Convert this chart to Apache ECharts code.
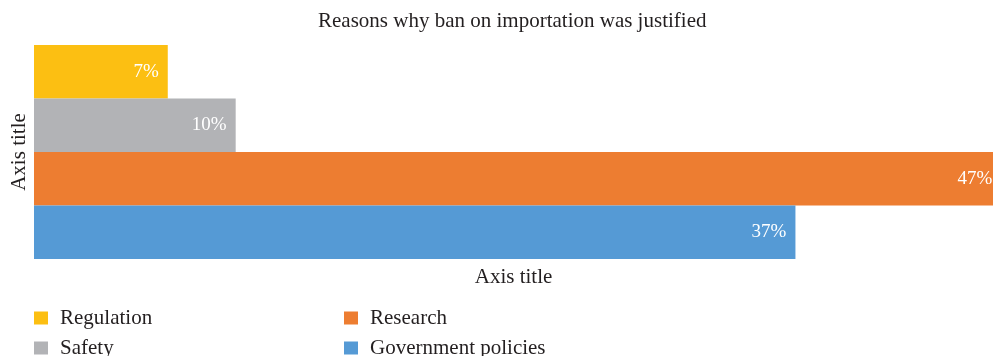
<!DOCTYPE html>
<html>
<head>
<meta charset="utf-8">
<script src="https://cdn.jsdelivr.net/npm/echarts@6/dist/echarts.min.js"></script>
<style>html,body{margin:0;padding:0;background:#fff}#c{width:993px;height:356px}</style>
</head>
<body>
<div id="c"></div>
<script>
var categories = ['Reasons'];
var seriesNames = ['Regulation', 'Safety', 'Research', 'Government policies'];
var seriesValues = [[6.5], [9.8], [47.0], [37.0]];
var seriesColors = ['#FCBF12', '#B2B3B6', '#ED7D31', '#559AD5'];
var titleText = 'Reasons why ban on importation was justified';
var xAxisTitle = 'Axis title';
var yAxisTitle = 'Axis title';

var FONT = 'Liberation Serif';
var TXT = '#231F20';

var chart = echarts.init(document.getElementById('c'));
var series = seriesNames.map(function (n, i) {
  return {
    name: n, type: 'bar', data: seriesValues[i],
    barGap: '0%', barCategoryGap: '0%', clip: false,
    itemStyle: { color: seriesColors[i] },
    label: {
      show: true, position: 'insideRight', distance: 9,
      color: '#fff', fontFamily: FONT, fontSize: 19,
      formatter: function (p) { return Math.round(p.value) + '%'; }
    }
  };
});
function lg(name, left, top) {
  return {
    data: [name], left: left, top: top, orient: 'vertical',
    icon: 'rect', itemWidth: 14, itemHeight: 13, padding: 0,
    selectedMode: false,
    textStyle: { fontFamily: FONT, fontSize: 21, color: TXT, padding: [0, 0, 0, 7], lineHeight: 22 }
  };
}
chart.setOption({
  animation: false,
  title: {
    text: titleText, left: 318, top: 11, padding: 0,
    textStyle: { fontFamily: FONT, fontSize: 21, fontWeight: 'normal', color: TXT }
  },
  legend: [
    lg('Regulation', 34, 307),
    lg('Safety', 34, 337),
    lg('Research', 344, 307),
    lg('Government policies', 344, 337)
  ],
  grid: { left: 34, right: 0, top: 45, bottom: 97, containLabel: false, outerBoundsMode: 'none' },
  xAxis: {
    type: 'value', min: 0, max: 46.6,
    axisLabel: { show: false }, axisLine: { show: false }, axisTick: { show: false },
    splitLine: { show: false },
    name: xAxisTitle, nameLocation: 'middle', nameGap: 8,
    nameTextStyle: { fontFamily: FONT, fontSize: 21, color: TXT }
  },
  yAxis: {
    type: 'category', data: categories, inverse: true,
    axisLabel: { show: false }, axisLine: { show: false }, axisTick: { show: false },
    name: yAxisTitle, nameLocation: 'middle', nameGap: 4, nameRotate: 90,
    nameTextStyle: { fontFamily: FONT, fontSize: 21, color: TXT }
  },
  series: series
});
</script>
</body>
</html>
